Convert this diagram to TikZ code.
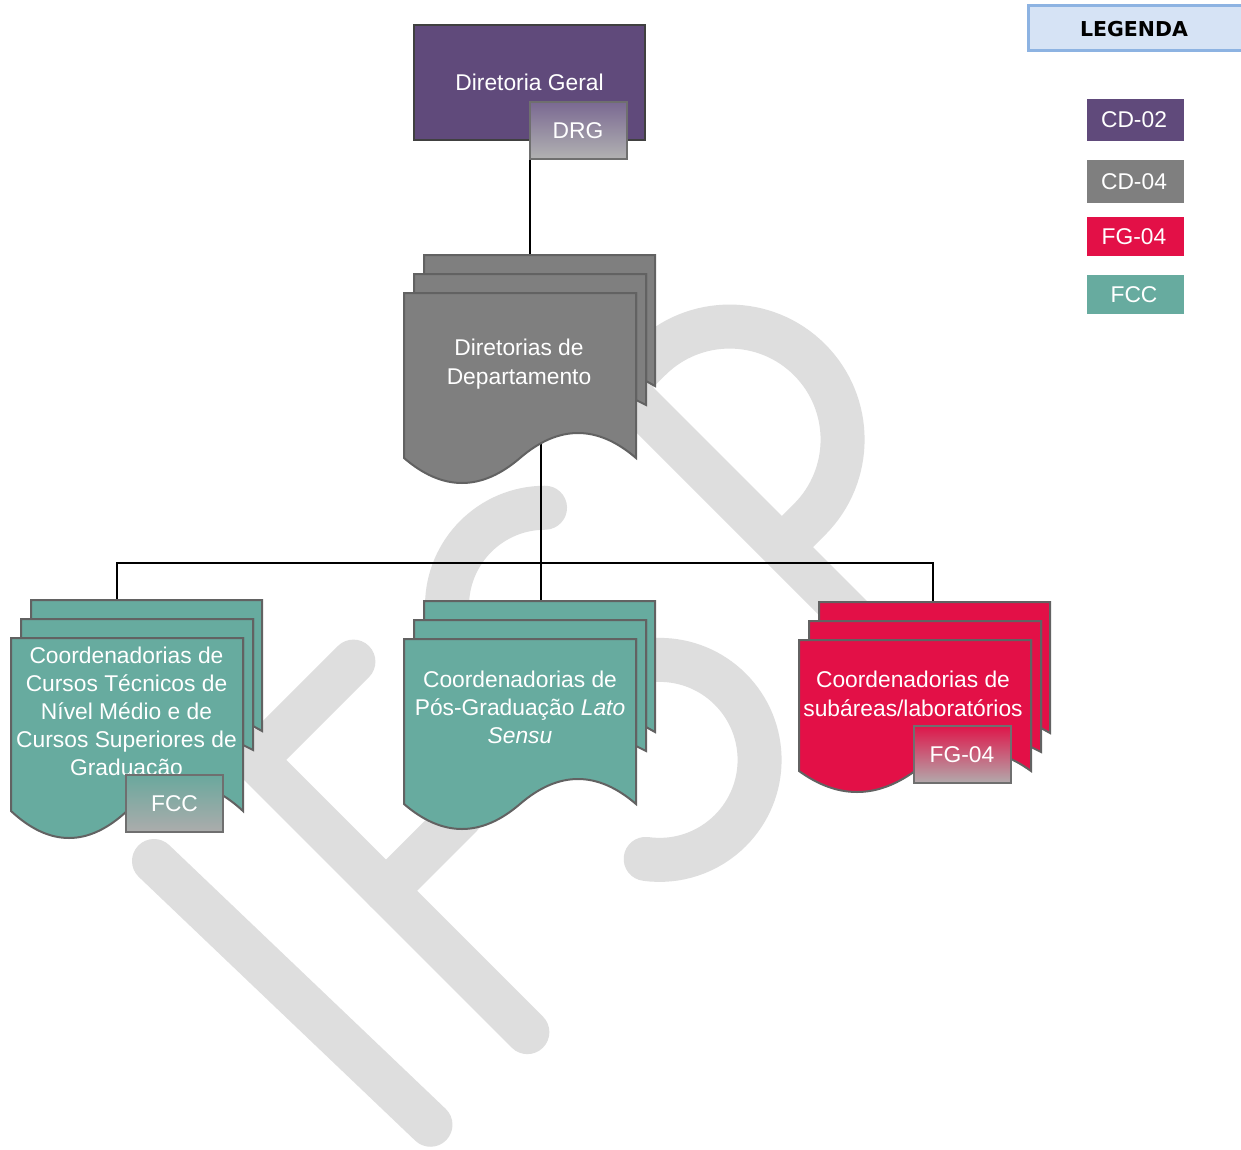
\documentclass[tikz,border=0pt]{standalone}
\usepackage{fontspec}
\setmainfont{Liberation Sans}
\newfontfamily\legfont{DejaVu Sans}
\definecolor{purp}{HTML}{604A7B}
\definecolor{gry}{HTML}{7F7F7F}
\definecolor{tealc}{HTML}{67AB9F}
\definecolor{redc}{HTML}{E31047}
\definecolor{wmgray}{HTML}{DEDEDE}
\definecolor{legborder}{HTML}{8DB3E2}
\definecolor{legfill}{HTML}{D6E3F5}
\definecolor{sheetborder}{HTML}{626262}
\definecolor{dgborder}{HTML}{404040}
\definecolor{badgeborder}{HTML}{6F6F6F}
\newcommand{\mdoc}[5]{%
 \begin{scope}[shift={(#1pt,-#2pt)}]
  \filldraw[sheet, fill=#5] (20,19) -- (20,0) -- (251,0) -- (251,131) -- (242,126) -- (242,19) -- cycle;
  \filldraw[sheet, fill=#5] (10,38) -- (10,19) -- (242,19) -- (242,150) -- (232,145) -- (232,38) -- cycle;
  \pgfmathsetmacro\kk{4*#4/3}
  \filldraw[sheet, fill=#5] (0,38) -- (232,38) -- (232,#3) .. controls (193.3,#3-\kk) and (154.7,#3-\kk) .. (116,#3) .. controls (77.3,#3+\kk) and (38.7,#3+\kk) .. (0,#3) -- cycle;
 \end{scope}}
\begin{document}
\begin{tikzpicture}[x=1pt,y=-1pt,
  sheet/.style={draw=sheetborder, line width=2pt, line join=miter},
  conn/.style={draw=black, line width=2pt},
  txt/.style={text=white, font=\fontsize{22.8}{28}\selectfont, align=center, inner sep=0pt},
  txtw/.style={text=white, font=\fontsize{22.8}{29}\selectfont, align=center, inner sep=0pt},
  badge/.style={draw=badgeborder, line width=2pt, minimum width=97pt, minimum height=57pt, inner sep=0pt, text=white, font=\fontsize{22.8}{28}\selectfont},
  legbox/.style={minimum width=97pt, inner sep=0pt, text=white, font=\fontsize{22.8}{28}\selectfont}]
\useasboundingbox (0,0) rectangle (1241,1150);
\fill[white] (0,0) rectangle (1241,1150);

% watermark IFSP
\begin{scope}[shift={(154pt,-861pt)}, x={(0.7071pt,0.7071pt)}, y={(0.7071pt,-0.7071pt)},
  wm/.style={draw=wmgray, line width=44pt, line cap=round, line join=miter}]
 \draw[wm] (0,0) -- (9,382);
 \draw[wm] (282,0) -- (143,0) -- (143,385);
 \draw[wm] (143,185) -- (250,185);
 \draw[wm] (526.3,26.7) arc[start angle=-45,end angle=-250,radius=98] -- (429,186) arc[start angle=-90,end angle=143,radius=100];
 \draw[wm] (666,385) -- (666,-4) -- (705,-4) arc[start angle=-90,end angle=90,radius=113] -- (666,222);
\end{scope}

% connectors
\coordinate (c-dg) at (530,135);
\coordinate (c-ddtop) at (530,256);
\coordinate (c-ddbot) at (541,420);
\coordinate (c-bus) at (541,563);
\coordinate (c-mid) at (541,601);
\coordinate (c-left) at (117,600);
\coordinate (c-right) at (933,602);
\draw[conn] (c-dg) -- (c-ddtop);
\draw[conn] (c-ddbot) -- (c-mid);
\draw[conn] (c-left) -- (c-left |- c-bus) -- (c-right |- c-bus) -- (c-right);

% top box
\node[draw=dgborder, fill=purp, line width=2pt, minimum width=231pt, minimum height=115pt, inner sep=0pt,
      text=white, font=\fontsize{22.8}{28}\selectfont] (dg) at (529.5,82.5) {Diretoria Geral};
\node[badge, top color={rgb,255:red,122;green,105;blue,146}, bottom color={rgb,255:red,178;green,178;blue,178}] (drg) at (578,130.5) {DRG};

% multidocument shapes
\mdoc{404}{255}{203}{25}{gry}
\mdoc{11}{600}{211}{27}{tealc}
\mdoc{404}{601}{203}{25}{tealc}
\mdoc{799}{602}{169}{21}{redc}

\node[txtw] (t-dd) at (519,364) {Diretorias de\\Departamento};
\node[txt] (t-tl) at (126.5,714) {Coordenadorias de\\Cursos Técnicos de\\Nível Médio e de\\Cursos Superiores de\\Graduação};
\node[txt] (t-tm) at (520,707) {Coordenadorias de\\Pós-Graduação \textit{Lato}\\\textit{Sensu}};
\node[txtw] (t-tr) at (913,694) {Coordenadorias de\\subáreas/laboratórios};

\node[badge, top color={rgb,255:red,106;green,168;blue,157}, bottom color={rgb,255:red,172;green,172;blue,172}] (fcc) at (174.5,803.5) {FCC};
\node[badge, top color={rgb,255:red,222;green,22;blue,74}, bottom color={rgb,255:red,178;green,170;blue,172}] (fg) at (962,754.5) {FG-04};

% legend
\draw[draw=legborder, fill=legfill, line width=3pt] (1028.5,6) rectangle (1250,51);
\node[font=\legfont\bfseries\fontsize{20.5}{24}\selectfont, inner sep=0pt] (leg) at (1134,29) {LEGENDA};
\node[legbox, fill=purp, minimum height=42pt] (l1) at (1135.5,120) {\hspace{-3pt}CD-02};
\node[legbox, fill=gry, minimum height=43pt] (l2) at (1135.5,181.5) {\hspace{-3pt}CD-04};
\node[legbox, fill=redc, minimum height=39pt] (l3) at (1135.5,236.5) {\hspace{-3pt}FG-04};
\node[legbox, fill=tealc, minimum height=39pt] (l4) at (1135.5,294.5) {\hspace{-3pt}FCC};
\end{tikzpicture}
\end{document}
